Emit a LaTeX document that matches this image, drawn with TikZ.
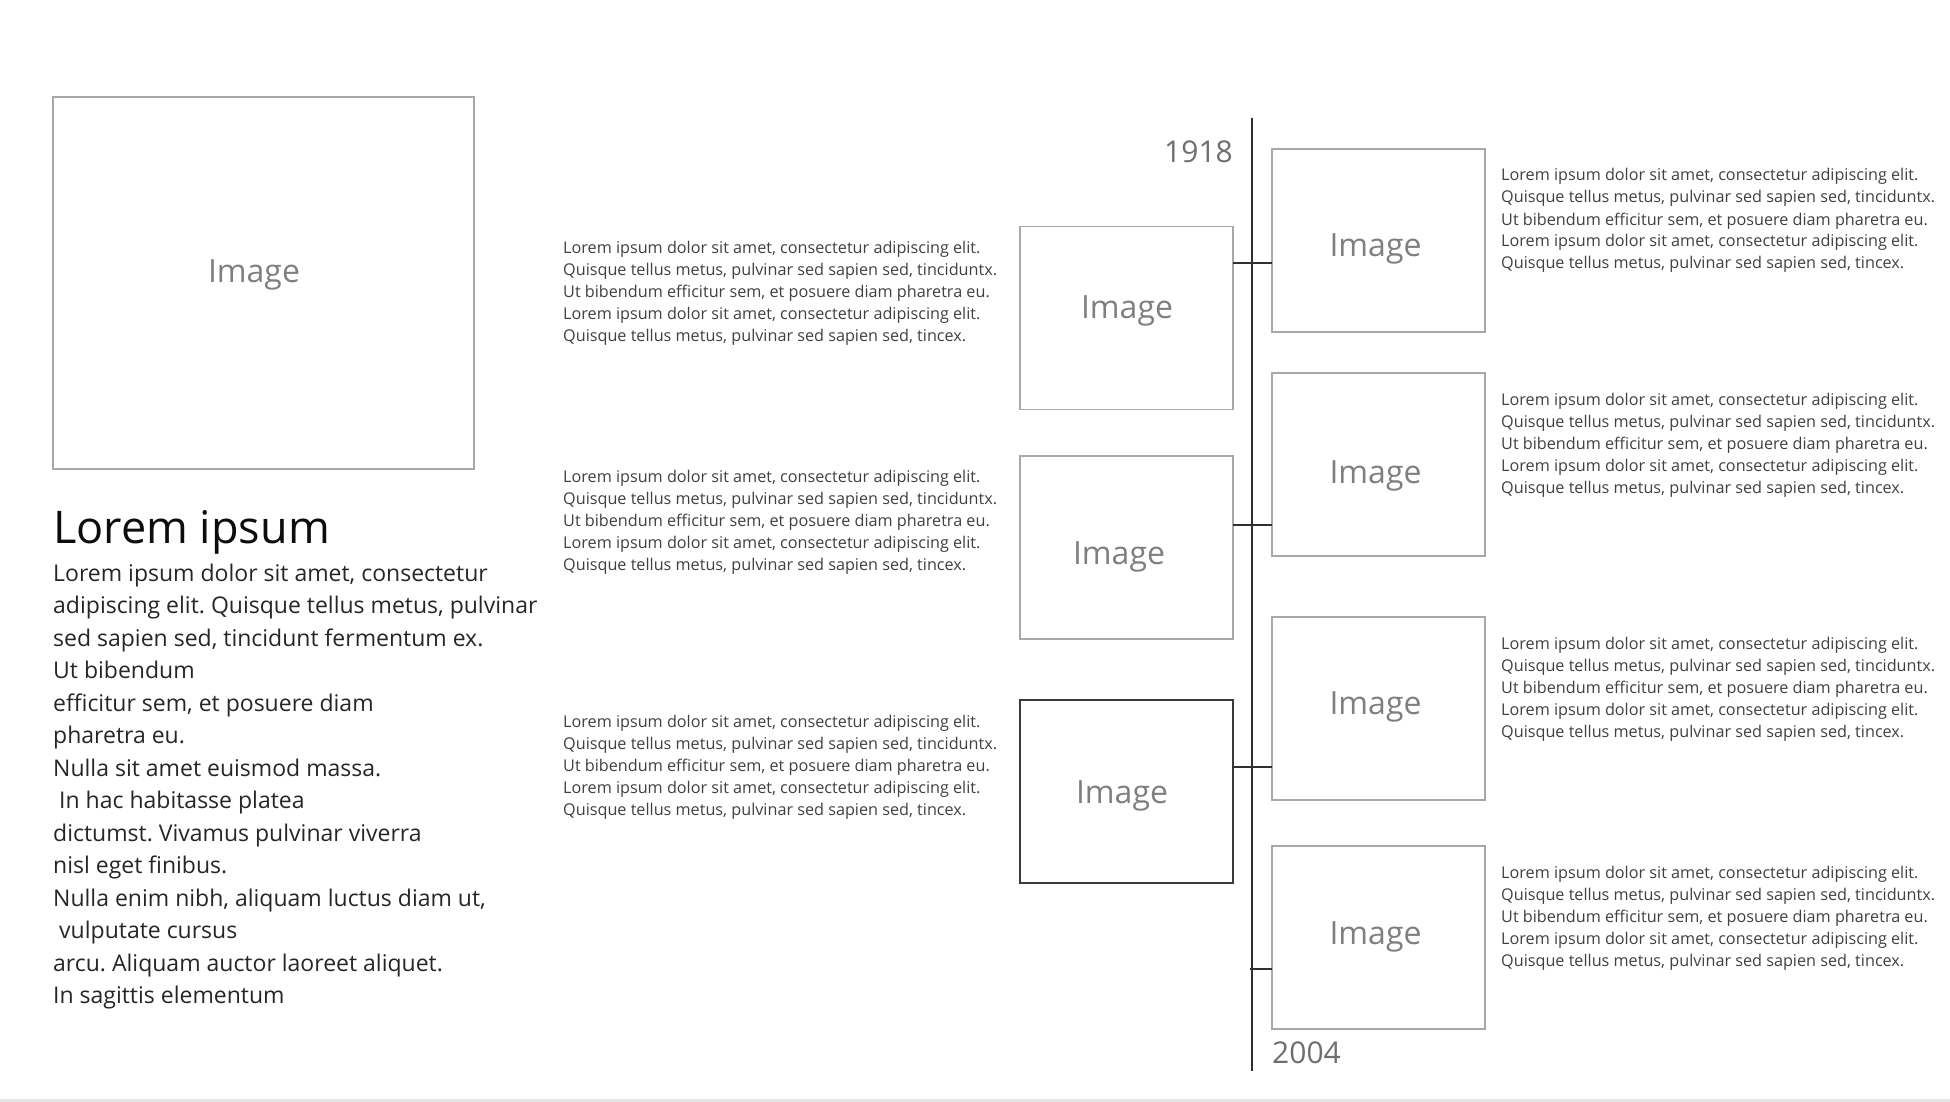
\documentclass[tikz,border=0pt]{standalone}
\usepackage{fontspec}
\setmainfont{Open Sans}
\frenchspacing
\definecolor{boxgray}{HTML}{A8A8A8}
\definecolor{darkbox}{HTML}{3A3A3A}
\definecolor{labelgray}{HTML}{7F7F7F}
\definecolor{smallgray}{HTML}{404040}
\definecolor{bodygray}{HTML}{262626}
\definecolor{titleblack}{HTML}{0D0D0D}
\definecolor{yeargray}{HTML}{6E6E6E}
\definecolor{axisgray}{HTML}{303030}
\definecolor{bandgray}{HTML}{E6E6E6}
\newcommand\smallblock{\begin{tabular}[t]{@{}l@{}}Lorem ipsum dolor sit amet, consectetur adipiscing elit.\\ Quisque tellus metus, pulvinar sed sapien sed, tinciduntx.\\ Ut bibendum efficitur sem, et posuere diam pharetra eu.\\ Lorem ipsum dolor sit amet, consectetur adipiscing elit.\\ Quisque tellus metus, pulvinar sed sapien sed, tincex.\end{tabular}}
\begin{document}
\begin{tikzpicture}[x=1pt,y=-1pt,
  imgbox/.style={draw=boxgray, line width=1.3pt, minimum width=213pt, minimum height=183pt, inner sep=0pt, outer sep=0pt},
  imglabel/.style={text=labelgray, font=\fontsize{32}{38}\selectfont, inner sep=0pt},
  smalltext/.style={anchor=base west, inner sep=0pt, text=smallgray, font=\fontsize{16.2}{22}\selectfont},
  bodytext/.style={anchor=base west, inner sep=0pt, text=bodygray, font=\fontsize{23}{32.5}\selectfont},
  titletext/.style={anchor=base west, inner sep=0pt, text=titleblack, font=\fontsize{45}{54}\selectfont},
  yeartext/.style={inner sep=0pt, text=yeargray, font=\fontsize{30}{36}\selectfont},
  axisline/.style={draw=axisgray, line width=2.4pt},
  tickline/.style={draw=axisgray, line width=2pt}]
\useasboundingbox (0,0) rectangle (1950,1102);
\fill[bandgray] (0,1099) rectangle (1950,1102);

% big image placeholder
\node[imgbox, minimum width=421pt, minimum height=372pt] (big) at (263.5,283) {};
\node[imglabel] (bigl) at (254,275) {Image};

% title and body
\node[titletext] (title) at (53,543) {Lorem ipsum};
\node[bodytext] (body) at (53,581) {\begin{tabular}[t]{@{}l@{}}Lorem ipsum dolor sit amet, consectetur\\ adipiscing elit. Quisque tellus metus, pulvinar\\ sed sapien sed, tincidunt fermentum ex.\\ Ut bibendum\\ efficitur sem, et posuere diam\\ pharetra eu.\\ Nulla sit amet euismod massa.\\ \hspace*{6pt}In hac habitasse platea\\ dictumst. Vivamus pulvinar viverra\\ nisl eget finibus.\\ Nulla enim nibh, aliquam luctus diam ut,\\ \hspace*{6pt}vulputate cursus\\ arcu. Aliquam auctor laoreet aliquet.\\ In sagittis elementum\end{tabular}};

% middle texts
\node[smalltext] (m1) at (563,253) {\smallblock};
\node[smalltext] (m2) at (563,482) {\smallblock};
\node[smalltext] (m3) at (563,727) {\smallblock};

% right texts
\node[smalltext] (r1) at (1501,181) {\smallblock};
\node[smalltext] (r2) at (1501,405) {\smallblock};
\node[smalltext] (r3) at (1501,649) {\smallblock};
\node[smalltext] (r4) at (1501,878) {\smallblock};

% left boxes
\node[imgbox] (lb1) at (1126.5,318) {};
\node[imgbox] (lb2) at (1126.5,547.5) {};
\node[imgbox, draw=darkbox] (lb3) at (1126.5,791.5) {};
\node[imglabel] (lb1l) at (1127,311) {Image};
\node[imglabel] (lb2l) at (1119,557) {Image};
\node[imglabel] (lb3l) at (1122,796) {Image};

% right boxes
\node[imgbox] (rb1) at (1378.5,240.5) {};
\node[imgbox] (rb2) at (1378.5,464.5) {};
\node[imgbox] (rb3) at (1378.5,708.5) {};
\node[imgbox] (rb4) at (1378.5,937.5) {};
\node[imglabel] (rb1l) at (1375.5,249) {Image};
\node[imglabel] (rb2l) at (1375.5,476) {Image};
\node[imglabel] (rb3l) at (1375.5,707) {Image};
\node[imglabel] (rb4l) at (1375.5,937) {Image};

% timeline
\coordinate (ttop) at (1252,118);
\coordinate (tbot) at (1252,1071);
\draw[axisline] (ttop) -- (tbot);
\coordinate (t1) at (1252,263);
\coordinate (t2) at (1252,525);
\coordinate (t3) at (1252,767);
\coordinate (t4) at (1250,969);
\draw[tickline] (lb1.east |- t1) -- (rb1.west |- t1);
\draw[tickline] (lb2.east |- t2) -- (rb2.west |- t2);
\draw[tickline] (lb3.east |- t3) -- (rb3.west |- t3);
\draw[tickline] (t4) -- (rb4.west |- t4);

% years
\node[yeartext, anchor=base east] (y1) at (1233,163) {1918};
\node[yeartext, anchor=base west] (y2) at (1272,1063) {2004};
\end{tikzpicture}
\end{document}
